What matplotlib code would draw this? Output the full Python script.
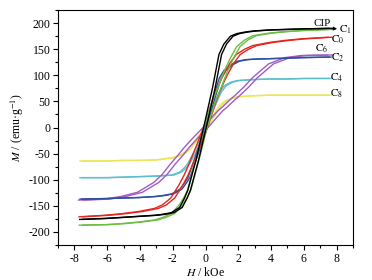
import matplotlib
matplotlib.use("Agg")
import matplotlib.pyplot as plt
from matplotlib.ticker import MultipleLocator

plt.rcParams['font.family'] = ['Liberation Serif', 'DejaVu Serif']
plt.rcParams['mathtext.fontset'] = 'stix'
plt.rcParams['axes.unicode_minus'] = False

# field grid (kOe), shared by all loops
H = [-7.6, -6, -5, -4, -3, -2.5, -2, -1.5, -1.2, -1, -0.5, 0,
     0.5, 0.9, 1.2, 1.6, 2, 2.5, 3, 4, 5, 6, 7.6]

# mean magnetisation of each loop (emu/g)
m_cip = [-176, -174, -172, -170, -168, -166, -163, -153, -135, -120, -62, 5,
         75, 140, 160, 175, 180, 183, 185, 187, 188, 189, 190]
m_c1 = [-187, -186, -184, -181, -177, -172, -165, -148, -133, -120, -62, 0,
        50, 80, 105, 132, 155, 168, 176, 181, 184, 186, 188]
m_c0 = [-171, -168, -165, -161, -155, -148, -135, -110, -92, -78, -40, 0,
        48, 80, 100, 123, 140, 150, 157, 163, 167, 170, 173]
m_c2 = [-137, -136, -135, -134, -132, -130, -127, -118, -105, -95, -50, 0,
        55, 95, 110, 120, 127, 130, 131, 132, 133, 134, 135]
m_c6 = [-139, -137, -132, -124, -105, -90, -70, -52, -40, -33, -16, 0,
        18, 32, 40, 52, 63, 78, 95, 122, 134, 138, 139]
m_c4 = [-96, -96, -95, -94, -93, -92, -91, -85, -76, -68, -38, 0,
        40, 68, 80, 87, 90, 91, 92, 93, 93, 94, 94]
m_c8 = [-64, -64, -63, -63, -62, -60, -58, -53, -47, -42, -22, 0,
        22, 42, 50, 56, 59, 60, 61, 62, 62, 62, 62]

# coercive field of each loop (kOe)
hc = {'CIP': 0.08, 'C1': 0.10, 'C0': 0.12, 'C2': 0.06, 'C6': 0.15, 'C4': 0.06, 'C8': 0.06}

loops = [
    ('C8', m_c8, '#ece55a'),
    ('C4', m_c4, '#5cbfd0'),
    ('C6', m_c6, '#a05cc0'),
    ('C2', m_c2, '#2e4f9e'),
    ('C0', m_c0, '#e6261f'),
    ('C1', m_c1, '#6cbd45'),
    ('CIP', m_cip, '#000000'),
]

fig = plt.figure(figsize=(3.72, 2.8), dpi=100)
ax = fig.add_axes([0.156, 0.125, 0.793, 0.839])

for name, m, col in loops:
    ax.plot([h - hc[name] for h in H], m, color=col, lw=1.0)
    ax.plot([h + hc[name] for h in H], m, color=col, lw=1.0)

# curve labels
fs = 8
ax.text(7.1, 200, 'CIP', fontsize=fs, ha='center', va='center')
ax.annotate('', xy=(8.2, 189), xytext=(7.4, 190),
            arrowprops=dict(arrowstyle='-|>', color='k', lw=0.8, mutation_scale=5))
ax.text(8.15, 188, r'$\mathrm{C}_1$', fontsize=fs, va='center')
ax.text(7.65, 169, r'$\mathrm{C}_0$', fontsize=fs, va='center')
ax.text(6.7, 150, r'$\mathrm{C}_6$', fontsize=fs, va='center')
ax.text(7.65, 134, r'$\mathrm{C}_2$', fontsize=fs, va='center')
ax.text(7.6, 96, r'$\mathrm{C}_4$', fontsize=fs, va='center')
ax.text(7.6, 64, r'$\mathrm{C}_8$', fontsize=fs, va='center')

ax.set_xlim(-9, 9)
ax.set_ylim(-225, 225)
ax.xaxis.set_major_locator(MultipleLocator(2))
ax.xaxis.set_minor_locator(MultipleLocator(1))
ax.yaxis.set_major_locator(MultipleLocator(50))
ax.yaxis.set_minor_locator(MultipleLocator(25))
ax.tick_params(which='both', direction='out', top=False, right=False, labelsize=8.5, width=0.8, pad=2)
ax.tick_params(which='major', length=3.5)
ax.tick_params(which='minor', length=2)
for s in ax.spines.values():
    s.set_linewidth(0.8)

ax.set_xlabel(r'$H$ / kOe', fontsize=8.5, labelpad=1)
ax.set_ylabel(r'$M$ / (emu·g$^{-1}$)', fontsize=8.5, labelpad=2)

fig.savefig('out.png', dpi=100)
